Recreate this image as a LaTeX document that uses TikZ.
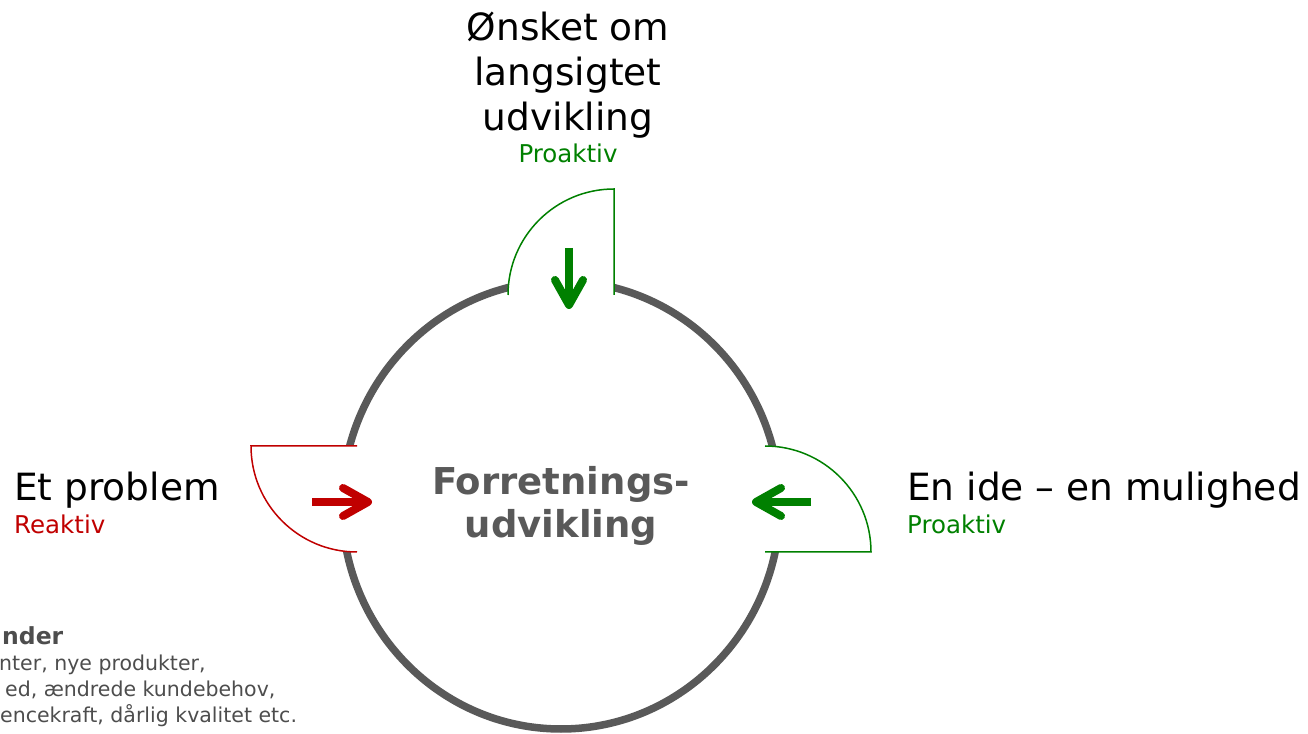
\documentclass[tikz,border=0pt]{standalone}
\usepackage{fontspec}
\setmainfont{DejaVu Sans}
\usetikzlibrary{arrows.meta}
\definecolor{kredsgraa}{HTML}{595959}
\definecolor{proaktiv}{HTML}{008000}
\definecolor{reaktiv}{HTML}{C00000}
\definecolor{notegraa}{HTML}{4D4D4D}
\begin{document}
\begin{tikzpicture}[x=1pt, y=1pt,
  big/.style={inner sep=0pt, align=center, font=\fontsize{37.5}{45}\selectfont},
  tag/.style={inner sep=0pt, font=\fontsize{24.5}{28}\selectfont},
  note/.style={inner sep=0pt, anchor=base west, text=notegraa, font=\fontsize{20.5}{25.7}\selectfont},
  rand/.style={line width=1.5pt},
  pil/.style={line width=8pt, -{Straight Barb[length=25pt,width=28pt,round]}}]
\useasboundingbox (0,0) rectangle (1308,733);
\draw[line width=7.5pt, kredsgraa] (561,228) ellipse [x radius=219, y radius=224];
\fill[white] (357,287) -- (251,287) arc[start angle=180, end angle=270, radius=106] -- cycle;
\draw[rand, reaktiv] (357,287) -- (251,287) arc[start angle=180, end angle=270, radius=106];
\fill[white] (765,287) arc[start angle=90, end angle=0, radius=106] -- (765,181) -- cycle;
\draw[rand, proaktiv] (765,287) arc[start angle=90, end angle=0, radius=106] -- (765,181);
\fill[white] (508,438) arc[start angle=180, end angle=90, radius=106] -- (614,438) -- cycle;
\draw[rand, proaktiv] (508,438) arc[start angle=180, end angle=90, radius=106] -- (614,438);
\coordinate (A_-1_0) at (312,231);
\coordinate (B_-1_0) at (372,231);
\draw[pil, reaktiv] (A_-1_0) -- (B_-1_0);
\coordinate (A_1_0) at (811,231);
\coordinate (B_1_0) at (752,231);
\draw[pil, proaktiv] (A_1_0) -- (B_1_0);
\coordinate (A_0_1) at (569,485);
\coordinate (B_0_1) at (569,424);
\draw[pil, proaktiv] (A_0_1) -- (B_0_1);
\node[big, anchor=base, text=kredsgraa, font=\bfseries\fontsize{37}{43}\selectfont] (P_0_0) at (561,195) {Forretnings-\\udvikling};
\node[big, anchor=base] (P_0_1) at (568,602) {Ønsket om\\langsigtet\\udvikling};
\node[tag, anchor=base, text=proaktiv] (Q_0_1) at (568,570) {Proaktiv};
\node[big, anchor=base west] (P_-1_0) at (14,232) {Et problem};
\node[tag, anchor=base west, text=reaktiv] (Q_-1_0) at (14,199) {Reaktiv};
\node[big, anchor=base west] (P_1_0) at (907,232) {En ide – en mulighed};
\node[tag, anchor=base west, text=proaktiv] (Q_1_0) at (907,199) {Proaktiv};
\node[note, font=\bfseries\fontsize{23.5}{28}\selectfont] (N_0) at (2,88) {nder};
\node[note] (N_1) at (-1,62) {nter, nye produkter,};
\node[note] (N_2) at (5,36) {ed, ændrede kundebehov,};
\node[note] (N_3) at (0,11) {encekraft, dårlig kvalitet etc.};
\end{tikzpicture}
\end{document}
